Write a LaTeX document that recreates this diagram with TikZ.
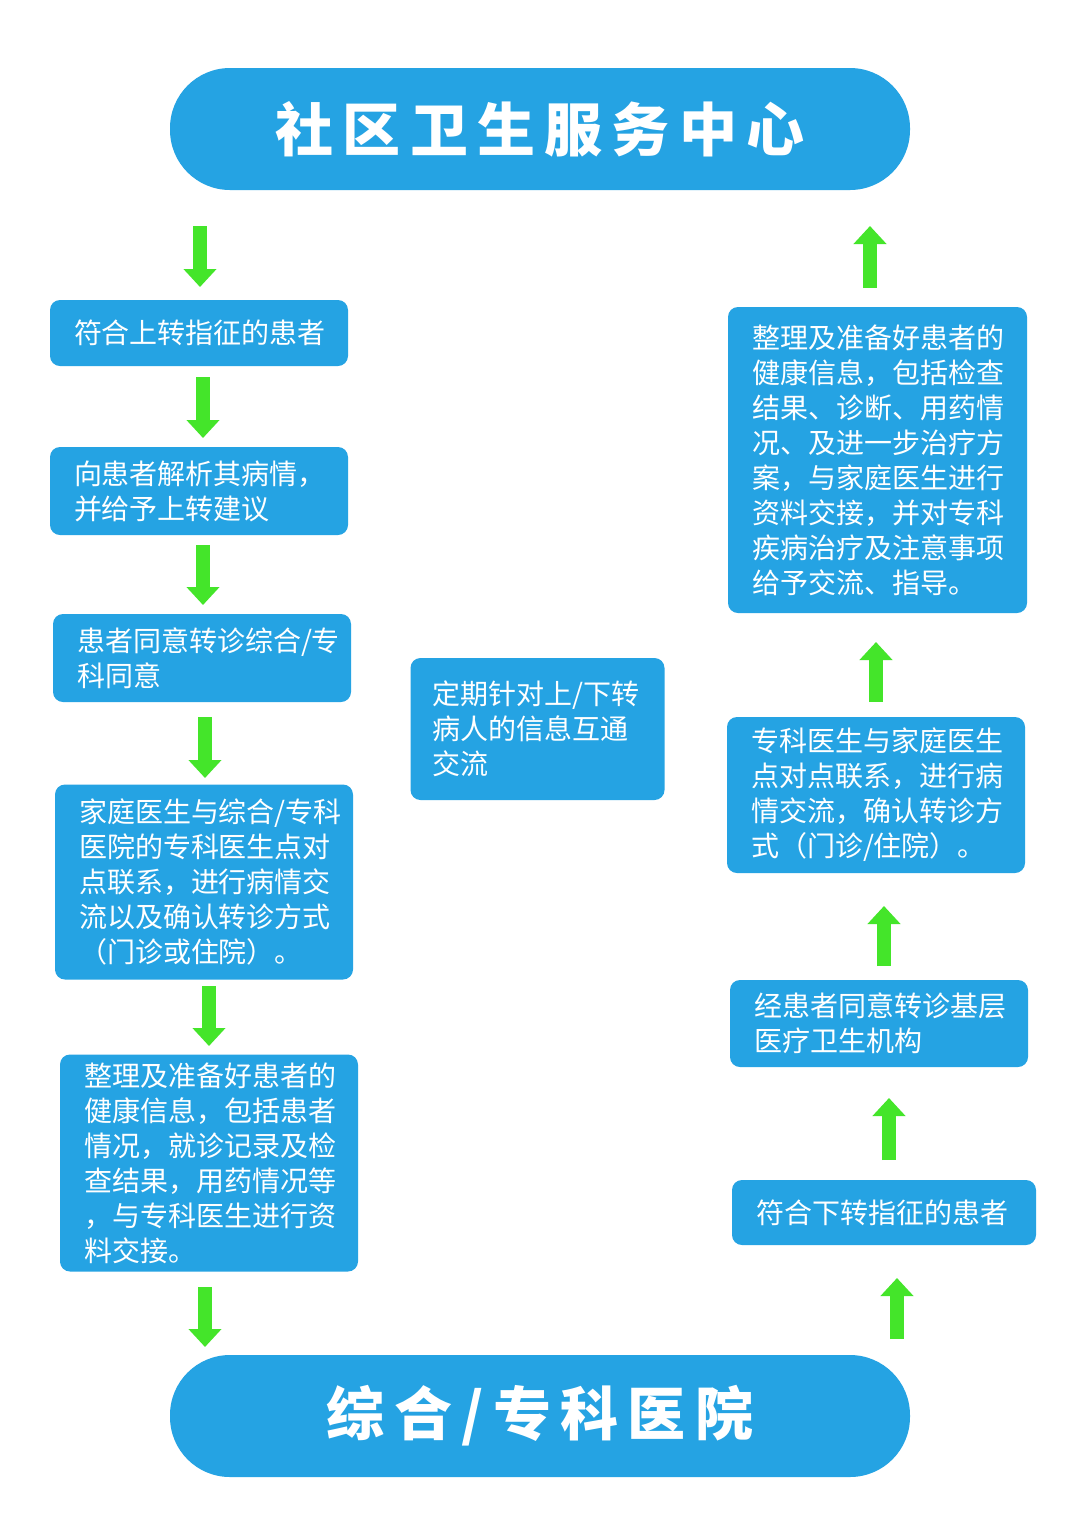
\documentclass[tikz,border=0pt]{standalone}
\usepackage{fontspec}
\setmainfont{Noto Sans CJK SC}
\usetikzlibrary{arrows.meta,backgrounds}
\definecolor{boxblue}{HTML}{25A3E3}
\definecolor{agreen}{HTML}{44E52A}
\tikzset{
  box/.style={fill=boxblue, rounded corners=5pt, text=white, align=left, inner xsep=12pt, inner ysep=3pt,
    font=\fontsize{14pt}{17.5pt}\selectfont},
  pill/.style={fill=boxblue, rounded corners=30pt, text=white, minimum width=370pt, minimum height=61pt,
    font=\fontsize{29pt}{32pt}\selectfont\bfseries\addfontfeatures{LetterSpace=16}},
  garrow/.style={draw=agreen, line width=7pt, -{Triangle[width=16pt,length=9pt]}},
  bigarrow/.style={draw=agreen, line width=13pt, {Triangle[width=27pt,length=14pt]}-{Triangle[width=27pt,length=14pt]}}
}
\begin{document}
\begin{tikzpicture}[x=0.5pt,y=-0.5pt]
\useasboundingbox[fill=white] (0,0) rectangle (1080,1528);
\node[pill] (top) at (540,129) {社区卫生服务中心};
\node[pill] (bot) at (540,1416) {综合/专科医院};
\node[box, text width=125pt, minimum height=33pt] (l1) at (199,333) {符合上转指征的患者};
\node[box, text width=125pt, minimum height=44pt] (l2) at (199,491) {向患者解析其病情，\\并给予上转建议};
\node[box, text width=125pt, minimum height=44pt] (l3) at (202,658) {患者同意转诊综合/专\\科同意};
\node[box, text width=125pt, minimum height=97.5pt] (l4) at (204,882) {家庭医生与综合/专科\\医院的专科医生点对\\点联系，进行病情交\\流以及确认转诊方式\\（门诊或住院）。};
\node[box, text width=125pt, minimum height=108.5pt] (l5) at (209,1163) {整理及准备好患者的\\健康信息，包括患者\\情况，就诊记录及检\\查结果，用药情况等\\，与专科医生进行资\\料交接。};
\node[box, text width=105pt, inner xsep=11pt, minimum height=71pt] (mid) at (537.5,729) {定期针对上/下转\\病人的信息互通\\交流};
\node[box, text width=125.5pt, minimum height=153pt] (r1) at (877.5,460) {整理及准备好患者的\\健康信息，包括检查\\结果、诊断、用药情\\况、及进一步治疗方\\案，与家庭医生进行\\资料交接，并对专科\\疾病治疗及注意事项\\给予交流、指导。};
\node[box, text width=125pt, minimum height=78pt] (r2) at (876,795) {专科医生与家庭医生\\点对点联系，进行病\\情交流，确认转诊方\\式（门诊/住院）。};
\node[box, text width=125pt, minimum height=43.5pt] (r3) at (879,1023.5) {经患者同意转诊基层\\医疗卫生机构};
\node[box, text width=128pt, minimum height=32.5pt] (r4) at (884,1212.5) {符合下转指征的患者};
\coordinate (a1s) at (200,226); \coordinate (a1e) at (200,287);
\coordinate (a2s) at (203,377); \coordinate (a2e) at (203,438);
\coordinate (a3s) at (203,545); \coordinate (a3e) at (203,605);
\coordinate (a4s) at (205,717); \coordinate (a4e) at (205,778);
\coordinate (a5s) at (209,986); \coordinate (a5e) at (209,1046);
\coordinate (a6s) at (205,1287); \coordinate (a6e) at (205,1347);
\coordinate (b1s) at (870,288); \coordinate (b1e) at (870,226);
\coordinate (b2s) at (876,702); \coordinate (b2e) at (876,642);
\coordinate (b3s) at (884,966); \coordinate (b3e) at (884,906);
\coordinate (b4s) at (889,1160); \coordinate (b4e) at (889,1098);
\coordinate (b5s) at (897,1339); \coordinate (b5e) at (897,1278);
\coordinate (ms) at (540,216); \coordinate (me) at (540,1311);
\foreach \n in {a1,a2,a3,a4,a5,a6,b1,b2,b3,b4,b5} \draw[garrow] (\n s) -- (\n e);
\begin{pgfonlayer}{background}
\draw[bigarrow] (ms) -- (me);
\end{pgfonlayer}
\end{tikzpicture}
\end{document}
